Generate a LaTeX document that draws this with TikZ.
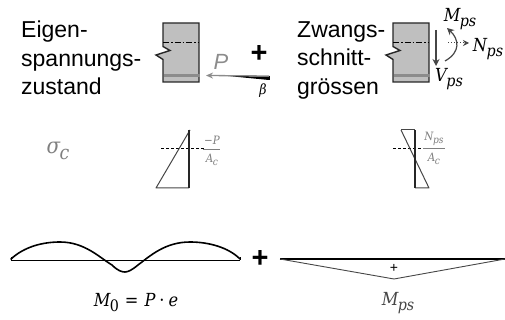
\documentclass[tikz,border=0pt]{standalone}
\usepackage{fontspec}
\setmainfont{Liberation Sans}
\newfontfamily\mfont{DejaVu Serif Condensed}
\usetikzlibrary{arrows.meta}
\definecolor{secfill}{RGB}{191,191,191}
\definecolor{barg}{RGB}{140,140,140}
\definecolor{txtg}{RGB}{127,127,127}
\definecolor{dk}{RGB}{70,70,70}
\newcommand{\mi}[1]{{\mfont\itshape #1}}
\newcommand{\msub}[2]{\mi{#1}\kern-0.5pt\raisebox{-0.28em}{\scalebox{0.88}{\mi{#2}}}}
\tikzset{
 x=1pt,y=-1pt,
 section/.style={draw=black!85,line width=1.4pt,fill=secfill,line join=miter},
 axisline/.style={line width=1pt,dash pattern=on 6pt off 2pt on 1.5pt off 2pt},
 dashline/.style={line width=0.8pt,dash pattern=on 3pt off 2pt},
 titletext/.style={font=\fontsize{23}{28.5}\selectfont,align=left,anchor=north west,inner sep=0pt},
 mathlabel/.style={inner sep=0pt,font=\fontsize{18}{20}\selectfont},
 fraclabel/.style={inner sep=0pt,font=\fontsize{11.5}{13}\selectfont,text=txtg},
 bigplus/.style={inner sep=0pt,font=\bfseries\fontsize{29}{30}\selectfont},
 stressline/.style={draw=dk,line width=1pt,line join=round},
}
\begin{document}
\begin{tikzpicture}
\useasboundingbox (0,0) rectangle (505,320);
% titles
\node[titletext] (t1) at (21,21) {Eigen-\\spannungs-\\zustand};
\node[titletext] (t2) at (297,21) {Zwangs-\\schnitt-\\grössen};
% left section
\draw[section] (163,23) -- (199,23) -- (199,82) -- (163,82) -- (163,59.5) -- (156,55) -- (170,50.5) -- (163,46.5) -- cycle;
\draw[axisline] (163,43) -- (199,43);
\draw[barg,line width=2.4pt] (164,75.5) -- (200,75.5);
% force P
\coordinate (pa) at (269,76);
\coordinate (pb) at (206,75.5);
\fill[black] (228,76) -- (269,76.5) -- (269,80) -- cycle;
\draw[black,line width=0.5pt] (269,76) -- (269,80);
\draw[barg,line width=1.3pt,-{Stealth[length=7pt,width=6pt]}] (pa) -- (pb);
\node[inner sep=0pt,text=barg,font=\fontsize{22}{24}\selectfont\itshape] (plab) at (221,62) {P};
\node[mathlabel,font=\fontsize{14}{15}\selectfont] (beta) at (263,91) {\mi{β}};
\node[bigplus] (plus1) at (259,54) {+};
% right section
\draw[section] (393,23) -- (429,23) -- (429,82) -- (393,82) -- (393,59.5) -- (386,55) -- (400,50.5) -- (393,46.5) -- cycle;
\draw[axisline] (393,43) -- (429,43);
\draw[barg,line width=2.4pt] (394,75.5) -- (430,75.5);
\coordinate (va) at (436,30);
\coordinate (vb) at (436,66);
\draw[dk,line width=1.2pt,-{Stealth[length=7pt,width=7pt]}] (va) -- (vb);
\coordinate (ma) at (445,61);
\coordinate (mb) at (447,28);
\draw[dk,line width=1.2pt,-{Stealth[length=7pt,width=7pt]}] (ma) .. controls (461,52) and (459,39) .. (mb);
\coordinate (na) at (448,43);
\coordinate (nb) at (469,43);
\draw[dk,line width=1pt,dotted,-{Stealth[length=6pt,width=6pt]}] (na) -- (nb);
\node[mathlabel] (mps) at (460,19) {\msub{M}{ps}};
\node[mathlabel] (nps) at (488,49) {\msub{N}{ps}};
\node[mathlabel] (vps) at (449,79) {\msub{V}{ps}};
% stresses left
\node[inner sep=0pt,text=txtg,font=\fontsize{22}{24}\selectfont] (sig) at (58,151) {\msub{σ}{c}};
\draw[dashline] (161,148) -- (205,148);
\draw[stressline] (190,130) -- (156,188) -- (189,188);
\draw[black!85,line width=1.2pt] (189,130) -- (189,188);
\draw[txtg,line width=0.6pt] (203,149) -- (220,149);
\node[fraclabel] (f1n) at (212,140) {\mi{−P}};
\node[fraclabel] (f1d) at (212,160) {\msub{A}{c}};
% stresses right
\draw[dashline] (393,148) -- (423,148);
\draw[stressline] (401,130) -- (429,188) -- (415,188);
\draw[stressline] (401,130) -- (415,130);
\draw[black!85,line width=1.2pt] (415,130) -- (415,188);
\draw[txtg,line width=0.6pt] (423,148.5) -- (445,148.5);
\node[fraclabel] (f2n) at (434,139) {\msub{N}{ps}};
\node[fraclabel] (f2d) at (434,159) {\msub{A}{c}};
% moment M0
\draw[black,line width=0.9pt,line join=round,rounded corners=1pt] (11,260) -- (240,260);
\draw[black,line width=1.6pt,line cap=round] (11,259) .. controls (24,247) and (42,242) .. (60,242) .. controls (85,242) and (100,258) .. (112,265) .. controls (118,271) and (122,272) .. (125,272) .. controls (128,272) and (132,270) .. (138,265) .. controls (150,256) and (165,242) .. (190,242) .. controls (208,242) and (228,247) .. (240,259);
\draw[black,line width=0.9pt] (11,257) -- (11,260) (240,257) -- (240,260);
\node[mathlabel] (m0) at (136,303) {\mi{M}\kern-0.5pt\raisebox{-0.28em}{\scalebox{0.88}{\mfont 0}}\kern6pt{\mfont =}\kern6pt\mi{P}\kern4pt{\mfont ·}\kern4pt\mi{e}};
\node[bigplus] (plus2) at (260,259) {+};
% moment Mps
\draw[black,line width=1.8pt] (280,259) -- (505,259);
\draw[dk,line width=0.9pt] (280,259) -- (394,279) -- (505,259);
\node[inner sep=0pt,font=\fontsize{14}{15}\selectfont] (plus3) at (394,268) {+};
\node[mathlabel,text=dk] (mpsb) at (398,303) {\msub{M}{ps}};
\end{tikzpicture}
\end{document}
